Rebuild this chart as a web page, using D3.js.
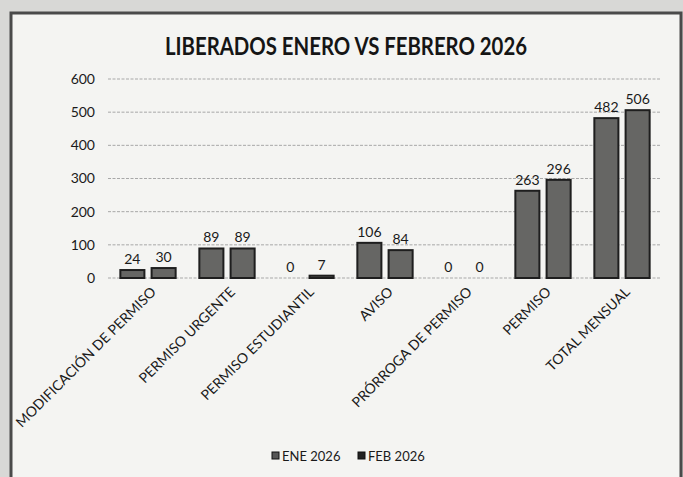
<!DOCTYPE html>
<html>
<head>
<meta charset="utf-8">
<script src="https://cdn.jsdelivr.net/npm/d3@7"></script>
<style>
  body { margin: 0; background: #d8d8d6; }
  svg { display: block; font-family: Lato, "Open Sans", sans-serif; }
</style>
</head>
<body>
<svg></svg>
<script>
var width = 683;
var height = 477;

var categories = ["MODIFICACIÓN DE PERMISO", "PERMISO URGENTE", "PERMISO ESTUDIANTIL", "AVISO",
                  "PRÓRROGA DE PERMISO", "PERMISO", "TOTAL MENSUAL"];
var series = ["ENE 2026", "FEB 2026"];
var eneValues = [24, 89, 0, 106, 0, 263, 482];
var febValues = [30, 89, 7, 84, 0, 296, 506];
var yTicks = [0, 100, 200, 300, 400, 500, 600];

var rows = categories.map((c, i) => ({
  category: c,
  values: [
    { series: series[0], value: eneValues[i] },
    { series: series[1], value: febValues[i] }
  ]
}));

var svg = d3.select("svg")
    .attr("width", width)
    .attr("height", height);

// paper + chart frame
svg.append("rect")
    .attr("width", width)
    .attr("height", height)
    .attr("fill", "#d8d8d6");

svg.append("rect")
    .attr("x", 11)
    .attr("y", 13)
    .attr("width", 670)
    .attr("height", 480)
    .attr("fill", "#f4f4f2")
    .attr("stroke", "#4a4a4a")
    .attr("stroke-width", 3);

var x0 = d3.scaleBand()
    .domain(categories)
    .range([108.5, 661.5])
    .paddingInner(0.3)
    .paddingOuter(0.15);

var x1 = d3.scaleBand()
    .domain(series)
    .range([0, x0.bandwidth()])
    .paddingInner(0.23);

var y = d3.scaleLinear()
    .domain([0, 600])
    .range([278, 79]);

// gridlines
svg.append("g")
    .selectAll("line")
    .data(yTicks)
    .join("line")
      .attr("x1", 108)
      .attr("x2", 661)
      .attr("y1", d => y(d))
      .attr("y2", d => y(d))
      .attr("stroke", "#a8a8a8")
      .attr("stroke-width", 1)
      .attr("stroke-dasharray", "3,1.5");

// y axis labels
var yAxis = d3.axisLeft(y)
    .tickValues(yTicks)
    .tickSize(0)
    .tickPadding(0);

svg.append("g")
    .attr("transform", "translate(95,0)")
    .call(yAxis)
    .call(g => g.select(".domain").remove())
    .selectAll("text")
      .attr("fill", "#1a1a1a")
      .style("font-family", "Lato, sans-serif")
      .style("font-size", "14px");

// bars
var groups = svg.append("g")
  .selectAll("g")
  .data(rows)
  .join("g")
    .attr("transform", d => `translate(${x0(d.category)},0)`);

groups.selectAll("rect")
  .data(d => d.values)
  .join("rect")
    .attr("x", d => x1(d.series))
    .attr("y", d => y(d.value))
    .attr("width", x1.bandwidth())
    .attr("height", d => y(0) - y(d.value))
    .attr("fill", "#666664")
    .attr("stroke", "#1e1e1e")
    .attr("stroke-width", d => d.value > 0 ? 2 : 0);

groups.selectAll("text")
  .data(d => d.values)
  .join("text")
    .attr("x", d => x1(d.series) + x1.bandwidth() / 2)
    .attr("y", d => y(d.value) - 6)
    .attr("text-anchor", "middle")
    .attr("fill", "#1a1a1a")
    .style("font-size", "14px")
    .text(d => d.value);

// category labels
svg.append("g")
  .selectAll("text")
  .data(categories)
  .join("text")
    .attr("transform", d => `translate(${x0(d) + x0.bandwidth() / 2 + 2},286) rotate(-45)`)
    .attr("text-anchor", "end")
    .attr("dy", "0.7em")
    .attr("fill", "#1a1a1a")
    .style("font-size", "14px")
    .text(d => d);

// title
svg.append("text")
    .attr("x", 346)
    .attr("y", 55)
    .attr("text-anchor", "middle")
    .attr("fill", "#151515")
    .attr("textLength", 362)
    .attr("lengthAdjust", "spacingAndGlyphs")
    .style("font-size", "24px")
    .style("font-weight", "bold")
    .text("LIBERADOS ENERO VS FEBRERO 2026");

// legend
var legend = svg.append("g")
  .selectAll("g")
  .data(series)
  .join("g")
    .attr("transform", (d, i) => `translate(${272 + i * 86},456)`);

legend.append("rect")
    .attr("x", 0)
    .attr("y", -4)
    .attr("width", 7)
    .attr("height", 7)
    .attr("fill", (d, i) => i === 0 ? "#555" : "#222")
    .attr("stroke", "#111")
    .attr("stroke-width", 1);

legend.append("text")
    .attr("x", 10)
    .attr("dy", "0.35em")
    .attr("fill", "#1a1a1a")
    .style("font-size", "13px")
    .text(d => d);
</script>
</body>
</html>
